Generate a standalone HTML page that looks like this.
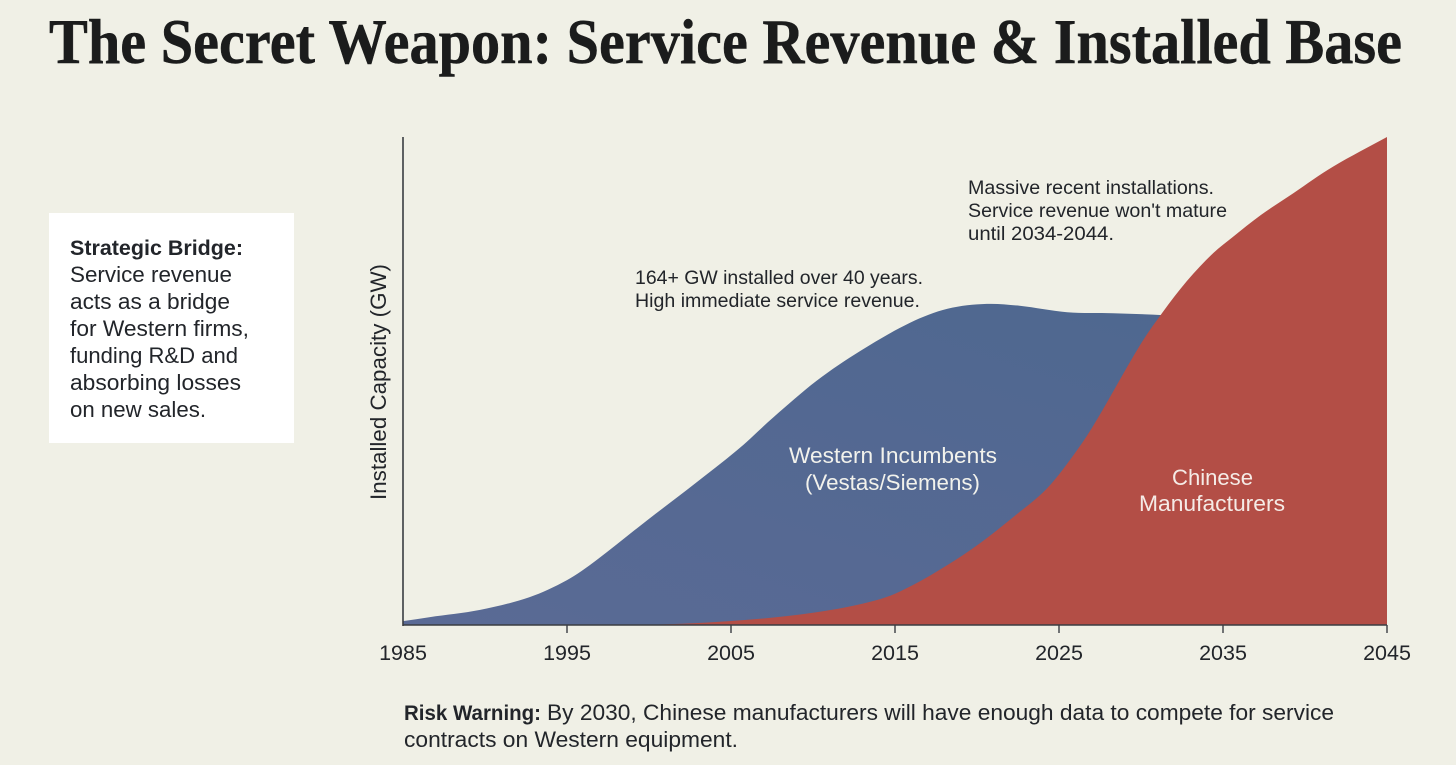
<!DOCTYPE html>
<html lang="en">
<head>
<meta charset="utf-8">
<title>The Secret Weapon: Service Revenue &amp; Installed Base</title>
<style>
html,body{margin:0;padding:0;background:#f0f0e6;}
svg{display:block;}
.sans{font-family:"Liberation Sans",sans-serif;fill:#22252a;}
.serif{font-family:"Liberation Serif",serif;fill:#1b1c1c;font-weight:700;}
</style>
</head>
<body>
<svg id="chart" width="1456" height="765" viewBox="0 0 1456 765" xmlns="http://www.w3.org/2000/svg">
  <defs>
    <linearGradient id="blueFill" x1="0" y1="1" x2="1" y2="0">
      <stop offset="0" stop-color="#5a6a95"/>
      <stop offset="1" stop-color="#4d678f"/>
    </linearGradient>
  </defs>
  <rect x="0" y="0" width="1456" height="765" fill="#f0f0e6"/>
  <text class="serif" x="49" y="63" font-size="63.5" stroke="#1b1c1c" stroke-width="0.5" textLength="1353" lengthAdjust="spacingAndGlyphs">The Secret Weapon: Service Revenue &amp; Installed Base</text>

  <g>
    <rect x="49" y="213" width="245" height="230" fill="#ffffff"/>
    <text class="sans" font-weight="700" x="70" y="255" font-size="21" textLength="173" lengthAdjust="spacingAndGlyphs">Strategic Bridge:</text>
    <text class="sans" x="70" y="282" font-size="22" textLength="162" lengthAdjust="spacingAndGlyphs">Service revenue</text>
    <text class="sans" x="70" y="309" font-size="22" textLength="160" lengthAdjust="spacingAndGlyphs">acts as a bridge</text>
    <text class="sans" x="70" y="336" font-size="22" textLength="179" lengthAdjust="spacingAndGlyphs">for Western firms,</text>
    <text class="sans" x="70" y="363" font-size="22" textLength="168" lengthAdjust="spacingAndGlyphs">funding R&amp;D and</text>
    <text class="sans" x="70" y="390" font-size="22" textLength="171" lengthAdjust="spacingAndGlyphs">absorbing losses</text>
    <text class="sans" x="70" y="417" font-size="22" textLength="136" lengthAdjust="spacingAndGlyphs">on new sales.</text>
  </g>

  <g id="plot"></g>

  <text class="sans" transform="translate(386 382) rotate(-90)" text-anchor="middle" font-size="22.5" textLength="236" lengthAdjust="spacingAndGlyphs">Installed Capacity (GW)</text>

  <text class="sans" x="635" y="284" font-size="19.5" textLength="288" lengthAdjust="spacingAndGlyphs">164+ GW installed over 40 years.</text>
  <text class="sans" x="635" y="307" font-size="19.5" textLength="285" lengthAdjust="spacingAndGlyphs">High immediate service revenue.</text>
  <text class="sans" x="968" y="194" font-size="19.5" textLength="246" lengthAdjust="spacingAndGlyphs">Massive recent installations.</text>
  <text class="sans" x="968" y="217" font-size="19.5" textLength="259" lengthAdjust="spacingAndGlyphs">Service revenue won't mature</text>
  <text class="sans" x="968" y="240" font-size="19.5" textLength="146" lengthAdjust="spacingAndGlyphs">until 2034-2044.</text>

  <text class="sans" style="fill:#f2f2ec" x="789" y="463" font-size="22" textLength="208" lengthAdjust="spacingAndGlyphs">Western Incumbents</text>
  <text class="sans" style="fill:#f2f2ec" x="805" y="490" font-size="22" textLength="175" lengthAdjust="spacingAndGlyphs">(Vestas/Siemens)</text>
  <text class="sans" style="fill:#f5ebe6" x="1172" y="485" font-size="22" textLength="81" lengthAdjust="spacingAndGlyphs">Chinese</text>
  <text class="sans" style="fill:#f5ebe6" x="1139" y="511" font-size="22" textLength="146" lengthAdjust="spacingAndGlyphs">Manufacturers</text>

  <g>
    <text class="sans" font-weight="700" x="404" y="720" font-size="21" textLength="137" lengthAdjust="spacingAndGlyphs">Risk Warning:</text>
    <text class="sans" x="547" y="720" font-size="22" textLength="787" lengthAdjust="spacingAndGlyphs">By 2030, Chinese manufacturers will have enough data to compete for service</text>
    <text class="sans" x="404" y="747" font-size="22" textLength="334" lengthAdjust="spacingAndGlyphs">contracts on Western equipment.</text>
  </g>
</svg>

<script>
const tickYears = [1985, 1995, 2005, 2015, 2025, 2035, 2045];
const westernYears = [1985, 1986.6, 1989.7, 1992.7, 1995, 1996.8, 1999.9, 2002.7, 2005.4, 2007.6, 2010.2, 2012.9, 2015.9, 2018.2, 2020.6, 2022.6, 2025.5, 2028.3, 2031.3, 2033, 2045];
const westernValues = [0.8, 1.6, 3.1, 5.7, 9.2, 13.3, 21.5, 28.7, 35.9, 42.6, 50, 56.2, 61.9, 64.8, 65.8, 65.4, 64.1, 63.9, 63.5, 63, 60];
const chineseYears = [1985, 1999, 2004.9, 2010, 2014.1, 2016.1, 2018.2, 2020.2, 2022.2, 2024.3, 2026.1, 2027.3, 2028.7, 2030.1, 2031.3, 2032.8, 2034.4, 2035.6, 2037.3, 2039.3, 2041.7, 2045];
const chineseValues = [0, 0, 0.8, 2.5, 5.3, 8.2, 12.3, 16.8, 22.1, 28.1, 35.8, 42, 50.2, 58.2, 64, 70.5, 76.2, 79.5, 84, 88.5, 93.9, 100];

const NS = 'http://www.w3.org/2000/svg';
const plot = document.getElementById('plot');
const xLeft = 403, xRight = 1387, yBase = 625, yTop = 137;
function xScale(year) { return xLeft + (year - 1985) / 60 * (xRight - xLeft); }
function yScale(value) { return yBase - value / 100 * (yBase - yTop); }

function smoothPath(xs, ys) {
  const n = xs.length;
  const t = [];
  for (let i = 0; i < n; i++) {
    const a = i > 0 ? i - 1 : i;
    const b = i < n - 1 ? i + 1 : i;
    t.push((ys[b] - ys[a]) / (xs[b] - xs[a]));
  }
  let d = 'M' + xs[0].toFixed(1) + ' ' + ys[0].toFixed(1);
  for (let i = 0; i < n - 1; i++) {
    const h = (xs[i + 1] - xs[i]) / 3;
    d += ' C' + (xs[i] + h).toFixed(1) + ' ' + (ys[i] + t[i] * h).toFixed(1) +
         ' ' + (xs[i + 1] - h).toFixed(1) + ' ' + (ys[i + 1] - t[i + 1] * h).toFixed(1) +
         ' ' + xs[i + 1].toFixed(1) + ' ' + ys[i + 1].toFixed(1);
  }
  return d;
}

function areaPath(years, values) {
  const xs = years.map(xScale);
  const ys = values.map(yScale);
  return smoothPath(xs, ys) + ' L' + xs[xs.length - 1].toFixed(1) + ' ' + yBase + ' L' + xs[0].toFixed(1) + ' ' + yBase + ' Z';
}

const westernArea = document.createElementNS(NS, 'path');


westernArea.setAttribute('d', areaPath(westernYears, westernValues));
westernArea.setAttribute('fill', 'url(#blueFill)');
plot.appendChild(westernArea);

const chineseArea = document.createElementNS(NS, 'path');


chineseArea.setAttribute('d', areaPath(chineseYears, chineseValues));
chineseArea.setAttribute('fill', '#b34e46');
plot.appendChild(chineseArea);

const yAxis = document.createElementNS(NS, 'line');


yAxis.setAttribute('x1', xLeft);
yAxis.setAttribute('x2', xLeft);
yAxis.setAttribute('y1', yTop);
yAxis.setAttribute('y2', yBase + 1);
yAxis.setAttribute('stroke', '#3a3d42');
yAxis.setAttribute('stroke-width', '1.6');
plot.appendChild(yAxis);

const xAxis = document.createElementNS(NS, 'line');


xAxis.setAttribute('x1', xLeft);
xAxis.setAttribute('x2', xRight);
xAxis.setAttribute('y1', yBase);
xAxis.setAttribute('y2', yBase);
xAxis.setAttribute('stroke', '#3a3d42');
xAxis.setAttribute('stroke-width', '1.6');
plot.appendChild(xAxis);

tickYears.forEach(function (year, index) {
  if (index > 0) {
    const mark = document.createElementNS(NS, 'line');
    
    
    mark.setAttribute('x1', xScale(year));
    mark.setAttribute('x2', xScale(year));
    mark.setAttribute('y1', yBase);
    mark.setAttribute('y2', yBase + 8);
    mark.setAttribute('stroke', '#3a3d42');
    mark.setAttribute('stroke-width', '1.4');
    plot.appendChild(mark);
  }

  const label = document.createElementNS(NS, 'text');
  
  
  label.setAttribute('class', 'sans');
  label.setAttribute('x', xScale(year));
  label.setAttribute('y', 660);
  label.setAttribute('text-anchor', 'middle');
  label.setAttribute('font-size', '21.5');
  label.textContent = String(year);
  plot.appendChild(label);
});
</script>
</body>
</html>
